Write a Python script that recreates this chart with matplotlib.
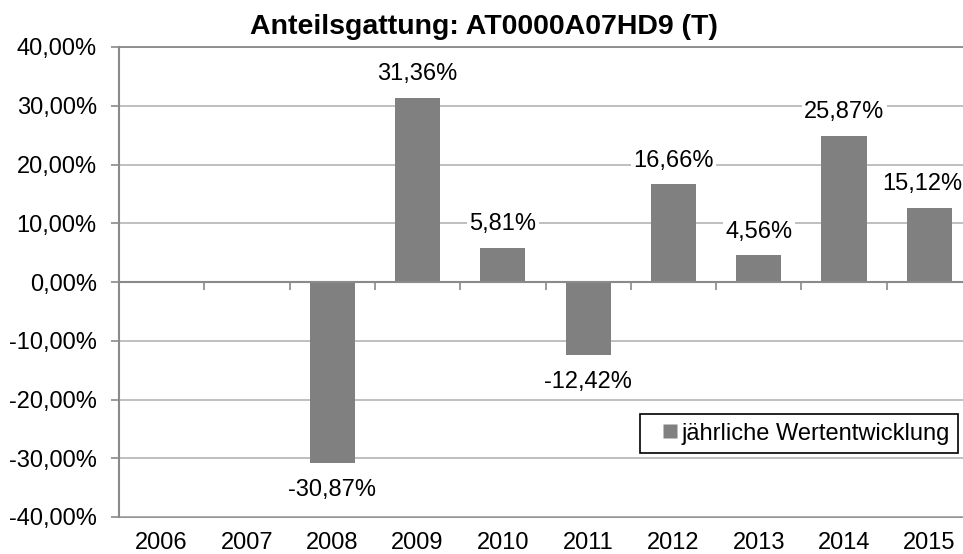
import matplotlib
matplotlib.use("Agg")
import matplotlib.pyplot as plt
from matplotlib.lines import Line2D
import numpy as np

years = ["2006", "2007", "2008", "2009", "2010", "2011", "2012", "2013", "2014", "2015"]
bar_values = [0.0, 0.0, -30.87, 31.36, 5.81, -12.42, 16.66, 4.56, 24.87, 12.62]
label_texts = [None, None, "-30,87%", "31,36%", "5,81%", "-12,42%", "16,66%", "4,56%", "25,87%", "15,12%"]
y_ticks = [-40, -30, -20, -10, 0, 10, 20, 30, 40]
title = "Anteilsgattung: AT0000A07HD9 (T)"
legend_label = "jährliche Wertentwicklung"

plt.rcParams['font.family'] = ['Liberation Sans', 'DejaVu Sans']
FS = 17
BAR = "#808080"
GRID = "#b4b4b4"
AXC = "#8a8a8a"

fig = plt.figure(figsize=(9.63, 5.54), dpi=100)
ax = fig.add_axes([119/963, 37/554, (972-119)/963, (517-47)/554])

x = np.arange(len(years))
ax.bar(x, bar_values, width=0.53, color=BAR, zorder=3)

ax.set_xlim(-0.5, len(years) - 0.5)
ax.set_ylim(-40, 40)
ax.set_yticks(y_ticks)
ax.set_yticklabels([f"{v:.2f}".replace(".", ",") + "%" for v in y_ticks], fontsize=FS)
ax.yaxis.grid(True, color=GRID, linewidth=1.2, zorder=0)
ax.tick_params(axis='y', direction='out', length=6, width=1.2, color=AXC, pad=10)

# category axis crossing at zero
ax.spines['bottom'].set_position(('data', 0))
ax.spines['bottom'].set_color(AXC)
ax.spines['bottom'].set_linewidth(1.5)
ax.spines['bottom'].set_zorder(4)
ax.set_xticks(x[1:] - 0.5)
ax.set_xticklabels([])
ax.tick_params(axis='x', direction='out', length=6, width=1.2, color=AXC)

ax.spines['left'].set_color(AXC)
ax.spines['left'].set_linewidth(1.5)
ax.spines['right'].set_visible(False)
ax.spines['top'].set_color(AXC)
ax.spines['top'].set_linewidth(1.3)

sec = ax.secondary_xaxis(0)
sec.set_xticks(x)
sec.set_xticklabels(years, fontsize=FS)
sec.tick_params(length=0, pad=10.5)
sec.spines['bottom'].set_color(AXC)
sec.spines['bottom'].set_linewidth(1.3)

annots = []
for xi, v, t in zip(x, bar_values, label_texts):
    if t is None:
        continue
    off = 17 if v >= 0 else -19.5
    a = ax.annotate(t, (xi, v), xytext=(0, off), textcoords='offset points',
                    ha='center', va='center', fontsize=FS, zorder=5, annotation_clip=False,
                    bbox=dict(boxstyle='square,pad=0.1', facecolor='white', edgecolor='none'))
    annots.append((a, off))

fig.text(484/963, 1 - 27/554, title, ha='center', va='center', fontsize=20.5, fontweight='bold')

handle = Line2D([], [], linestyle='none', marker='s', markersize=9.5,
                markerfacecolor=BAR, markeredgecolor='none', label=legend_label)
leg = ax.legend(handles=[handle],
                loc='lower right', bbox_to_anchor=(958/963, 101/554), bbox_transform=fig.transFigure,
                borderaxespad=0, fancybox=False, fontsize=FS, handlelength=1.85,
                handletextpad=-0.45, borderpad=0.35, framealpha=1)
leg.get_frame().set_edgecolor('black')
leg.get_frame().set_linewidth(1.2)
leg.set_zorder(6)

# keep data labels inside the figure (shift inward like the original chart does)
fig.canvas.draw()
renderer = fig.canvas.get_renderer()
W = fig.bbox.width
for a, off in annots:
    bb = a.get_window_extent(renderer)
    if bb.x1 > W - 1:
        shift = (bb.x1 - (W - 1)) * 72 / fig.dpi
        a.xyann = (-shift, off)

fig.savefig("out.png", dpi=100)
